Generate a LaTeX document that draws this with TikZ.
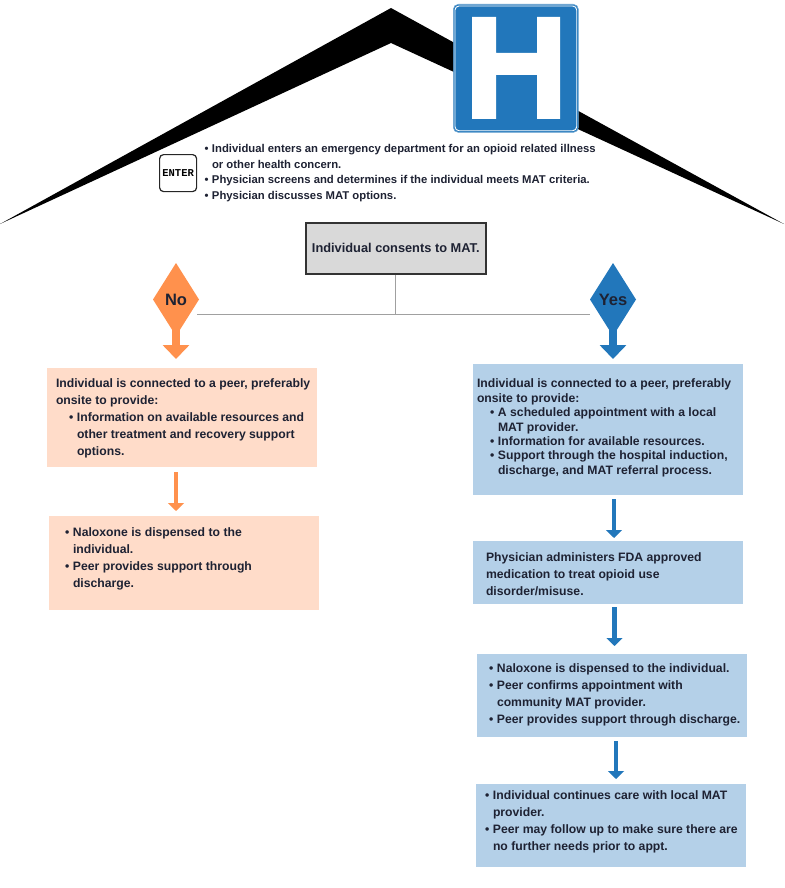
\documentclass[tikz,border=0pt]{standalone}
\usepackage{fontspec}
\setmainfont{Liberation Sans}
\setmonofont{Liberation Mono}
\usetikzlibrary{shapes.geometric,arrows.meta}
\definecolor{ink}{HTML}{1E2233}
\definecolor{orangeC}{HTML}{FF914D}
\definecolor{blueC}{HTML}{2277BB}
\definecolor{peachC}{HTML}{FFDCC9}
\definecolor{paleC}{HTML}{B4D0E8}
\definecolor{greyL}{HTML}{A0A0A0}
\newcommand{\bl}{\leavevmode\llap{\textbullet\hspace{3.5pt}}\ignorespaces}
\newcommand{\lead}[1]{\hspace*{-#1pt}\ignorespaces}
\tikzset{
  boxbase/.style={rectangle,anchor=north west,inner sep=0pt,outer sep=0pt},
  peachbox/.style={boxbase,fill=peachC},
  palebox/.style={boxbase,fill=paleC},
  bodytext/.style={anchor=north west,inner sep=0pt,outer sep=0pt,align=left,text=ink,font=\bfseries\fontsize{12.2}{#1}\selectfont},
  toptext/.style={anchor=north west,inner sep=0pt,outer sep=0pt,align=left,text=ink,font=\bfseries\fontsize{11.3}{15.9}\selectfont},
  choice/.style={diamond,shape aspect=0.63,minimum width=46pt,minimum height=73pt,inner sep=0pt,outer sep=0pt,text=ink,font=\bfseries\fontsize{16.5}{18}\selectfont},
  bigarrow/.style={line width=8pt,-{Triangle[width=26pt,length=14pt]},draw=#1,shorten <=-7pt},
  stepline/.style={line width=4.2pt,-{Triangle[width=16pt,length=8pt]},draw=#1},
  treeline/.style={draw=greyL,line width=1pt}
}
\begin{document}
\begin{tikzpicture}[x=1pt,y=-1pt]
\useasboundingbox (0,0) rectangle (784,888);
% roof
\fill[black] (0,224) -- (391,8) -- (784,224) -- (391,43) -- cycle;
% hospital sign
\node[rectangle,rounded corners=5pt,anchor=north west,minimum width=125pt,minimum height=128pt,inner sep=0pt,fill=blueC,draw=blueC!65!white,line width=0.7pt] (sign) at (453,4) {};
\draw[white,line width=0.9pt,rounded corners=4pt] ([xshift=2pt,yshift=-2pt]sign.north west) rectangle ([xshift=-2pt,yshift=2pt]sign.south east);
\fill[white] (472,17) -- (496,17) -- (496,53) -- (537,53) -- (537,17) -- (560,17) -- (560,119) -- (537,119) -- (537,75) -- (496,75) -- (496,119) -- (472,119) -- cycle;
% enter key
\node[rectangle,rounded corners=4pt,draw=black!85,line width=1.2pt,anchor=north west,minimum width=37pt,minimum height=37pt,inner sep=0pt,font=\ttfamily\bfseries\fontsize{10.5}{12}\selectfont] (enter) at (159,154) {ENTER};
\node[toptext] (intro) at (212,144) {\bl Individual enters an emergency department for an opioid related illness\\or other health concern.\\\bl Physician screens and determines if the individual meets MAT criteria.\\\bl Physician discusses MAT options.};
% decision
\node[rectangle,anchor=north west,minimum width=180pt,minimum height=51pt,inner sep=0pt,fill=black!15,draw=black!80,line width=1.5pt,text=ink,font=\bfseries\fontsize{12.8}{14}\selectfont] (consent) at (305,222) {Individual consents to MAT.};
\node[choice,fill=orangeC] (noD) at (176,299.5) {No};
\node[choice,fill=blueC] (yesD) at (613,299.5) {Yes};
% boxes
\node[peachbox,minimum width=270pt,minimum height=99pt] (pA) at (47,368) {};
\node[peachbox,minimum width=270pt,minimum height=94pt] (pB) at (49,516) {};
\node[palebox,minimum width=270pt,minimum height=131pt] (bA) at (473,364) {};
\node[palebox,minimum width=270pt,minimum height=63pt] (bB) at (473,541) {};
\node[palebox,minimum width=270pt,minimum height=83pt] (bC) at (477,654) {};
\node[palebox,minimum width=270pt,minimum height=83pt] (bD) at (476,784) {};
% box texts
\node[bodytext=17] (pAt) at (77,379) {\lead{21}Individual is connected to a peer, preferably\\\lead{21}onsite to provide:\\\bl Information on available resources and\\other treatment and recovery support\\options.};
\node[bodytext=17] (pBt) at (73,528) {\bl Naloxone is dispensed to the\\individual.\\\bl Peer provides support through\\discharge.};
\node[bodytext=14.4] (bAt) at (498,379) {\lead{21}Individual is connected to a peer, preferably\\\lead{21}onsite to provide:\\\bl A scheduled appointment with a local\\MAT provider.\\\bl Information for available resources.\\\bl Support through the hospital induction,\\discharge, and MAT referral process.};
\node[bodytext=17] (bBt) at (486,553) {Physician administers FDA approved\\medication to treat opioid use\\disorder/misuse.};
\node[bodytext=17] (bCt) at (497,664) {\bl Naloxone is dispensed to the individual.\\\bl Peer confirms appointment with\\community MAT provider.\\\bl Peer provides support through discharge.};
\node[bodytext=17] (bDt) at (493,791) {\bl Individual continues care with local MAT\\provider.\\\bl Peer may follow up to make sure there are\\no further needs prior to appt.};
% connectors
\coordinate (joint) at ([yshift=-40pt]consent.south);
\draw[treeline] (consent.south) -- (joint);
\draw[treeline] ([xshift=-2pt]joint -| noD.east) -- (joint -| yesD.west);
\draw[bigarrow=orangeC,shorten >=9pt] (noD.south) -- (noD.south |- pA.north);
\draw[bigarrow=blueC,shorten >=5pt] (yesD.south) -- (yesD.south |- bA.north);
\draw[stepline=orangeC,shorten <=5pt,shorten >=5pt] ([xshift=-6pt]pA.south) -- ([xshift=-6pt]pA.south |- pB.north);
\draw[stepline=blueC,shorten <=4pt,shorten >=3pt] ([xshift=6pt]bA.south) -- ([xshift=6pt]bA.south |- bB.north);
\draw[stepline=blueC,shorten <=3pt,shorten >=8pt] ([xshift=6.5pt]bB.south) -- ([xshift=6.5pt]bB.south |- bC.north);
\draw[stepline=blueC,shorten <=4pt,shorten >=5pt] ([xshift=4pt]bC.south) -- ([xshift=4pt]bC.south |- bD.north);
\end{tikzpicture}
\end{document}
